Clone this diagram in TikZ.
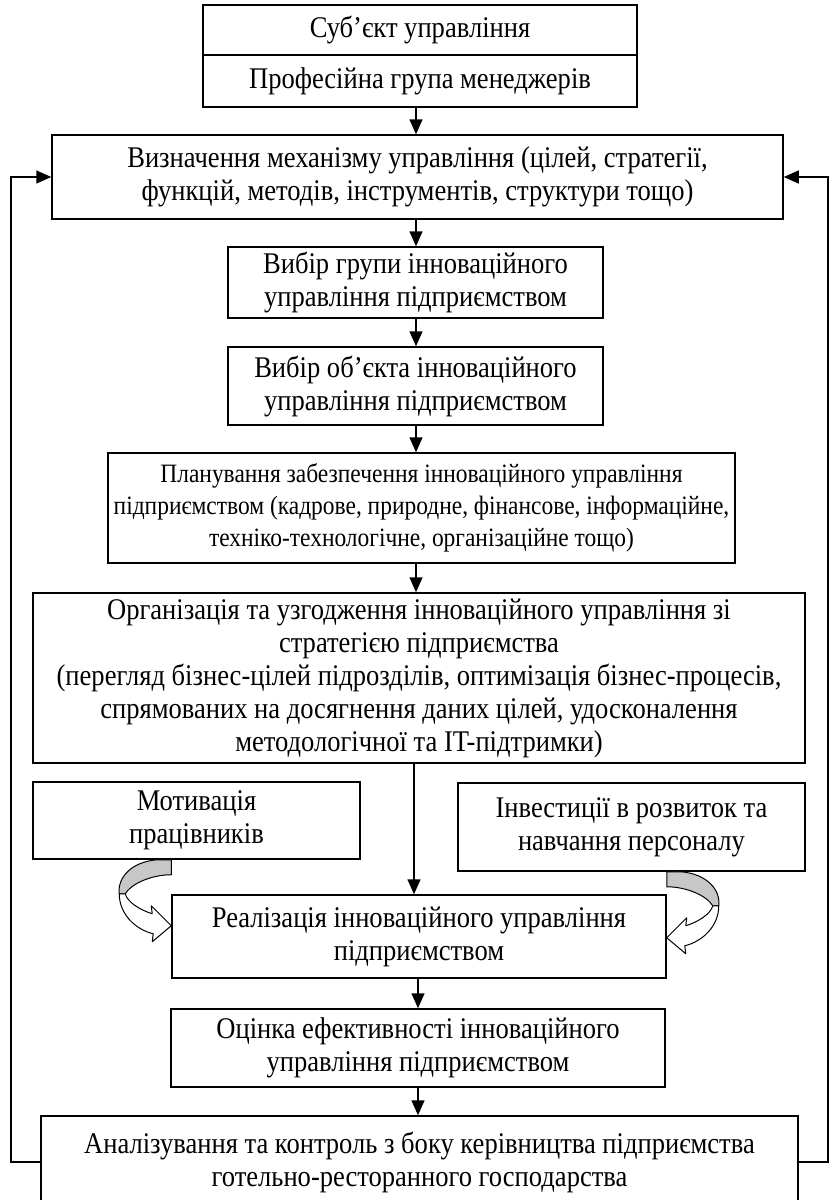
\documentclass[tikz,border=0pt]{standalone}
\usepackage{fontspec}
\setmainfont[FakeStretch=0.885]{Liberation Serif}
\usetikzlibrary{arrows.meta}
\tikzset{
  box/.style={draw, line width=1.5pt, align=center, inner sep=0pt,
              font=\fontsize{30}{33}\selectfont},
  link/.style={line width=1.5pt, -{Triangle[length=15pt,width=13pt]}},
  back/.style={line width=1.5pt, -{Triangle[length=15pt,width=13pt]}},
  ribbon/.style={draw, line width=1pt, line join=round},
}
\begin{document}
\begin{tikzpicture}[x=1pt, y=-1pt]
\useasboundingbox (0,0) rectangle (834,1200);

% main chain of boxes
\node[box, minimum width=434pt, minimum height=50pt] (subj) at (420,30) {Суб’єкт управління};
\node[box, minimum width=434pt, minimum height=52pt] (grp) at (420,81) {Професійна група менеджерів};
\node[box, minimum width=731pt, minimum height=84pt] (mech) at (417.5,177)
  {Визначення механізму управління (цілей, стратегії,\\ функцій, методів, інструментів, структури тощо)};
\node[box, minimum width=375pt, minimum height=71pt] (grpsel) at (415.5,282.5)
  {Вибір групи інноваційного\\ управління підприємством};
\node[box, minimum width=375pt, minimum height=78pt] (objsel) at (415.5,386)
  {Вибір об’єкта інноваційного\\ управління підприємством};
\node[box, minimum width=627pt, minimum height=110pt, font=\fontsize{26.5}{32}\selectfont] (plan) at (421.5,508)
  {Планування забезпечення інноваційного управління\\ підприємством (кадрове, природне, фінансове, інформаційне,\\ техніко-технологічне, організаційне тощо)};
\node[box, minimum width=772pt, minimum height=170pt] (org) at (419,678)
  {Організація та узгодження інноваційного управління зі\\ стратегією підприємства\\ (перегляд бізнес-цілей підрозділів, оптимізація бізнес-процесів,\\ спрямованих на досягнення даних цілей, удосконалення\\ методологічної та IT-підтримки)};
\node[box, minimum width=327pt, minimum height=77pt] (motiv) at (196.5,820.5)
  {Мотивація\\ працівників};
\node[box, minimum width=347pt, minimum height=88pt] (invest) at (631.5,827)
  {Інвестиції в розвиток та\\ навчання персоналу};
\node[box, minimum width=494pt, minimum height=83pt] (real) at (419,936.5)
  {Реалізація інноваційного управління\\ підприємством};
\node[box, minimum width=494pt, minimum height=78pt] (eval) at (418,1048)
  {Оцінка ефективності інноваційного\\ управління підприємством};
\node[box, minimum width=757pt, minimum height=92pt] (ctrl) at (419.5,1162)
  {Аналізування та контроль з боку керівництва підприємства\\ готельно-ресторанного господарства};

% downward links
\draw[link] (grp.south -| 416,0) -- (mech.north -| 416,0);
\draw[link] (mech.south -| 416,0) -- (grpsel.north -| 416,0);
\draw[link] (grpsel.south -| 416,0) -- (objsel.north -| 416,0);
\draw[link] (objsel.south -| 416,0) -- (plan.north -| 416,0);
\draw[link] (plan.south -| 416,0) -- (org.north -| 416,0);
\draw[link] (org.south -| 414,0) -- (real.north -| 414,0);
\draw[link] (real.south -| 418,0) -- (eval.north -| 418,0);
\draw[link] (eval.south -| 418,0) -- (ctrl.north -| 418,0);

% feedback loops
\coordinate (fbl) at (11,0);
\coordinate (fbr) at (828,0);
\draw[back] (ctrl.west) -- (ctrl.west -| fbl) -- (mech.west -| fbl) -- (mech.west);
\draw[back] (ctrl.east) -- (ctrl.east -| fbr) -- (mech.east -| fbr) -- (mech.east);

% curved block arrows into the realisation box
\begin{scope}[shift={(real.west |- motiv.south)}, xscale=-1]
  \path[ribbon, fill=black!22] (14,0) .. controls (40,2) and (54,18) .. (52,34)
     -- (46,34) .. controls (40,24) and (20,15) .. (0,15) -- (0,0) -- cycle;
  \path[ribbon, fill=white] (52,34) .. controls (52,55) and (35,70) .. (18,74)
     -- (19,82) -- (0,66) -- (20,46) -- (19,54) .. controls (32,50) and (44,42) .. (46,34) -- cycle;
\end{scope}
\begin{scope}[shift={(real.east |- invest.south)}]
  \path[ribbon, fill=black!22] (14,0) .. controls (40,2) and (54,18) .. (52,34)
     -- (46,34) .. controls (40,24) and (20,15) .. (0,15) -- (0,0) -- cycle;
  \path[ribbon, fill=white] (52,34) .. controls (52,55) and (35,70) .. (18,74)
     -- (19,82) -- (0,66) -- (20,46) -- (19,54) .. controls (32,50) and (44,42) .. (46,34) -- cycle;
\end{scope}
\end{tikzpicture}
\end{document}
